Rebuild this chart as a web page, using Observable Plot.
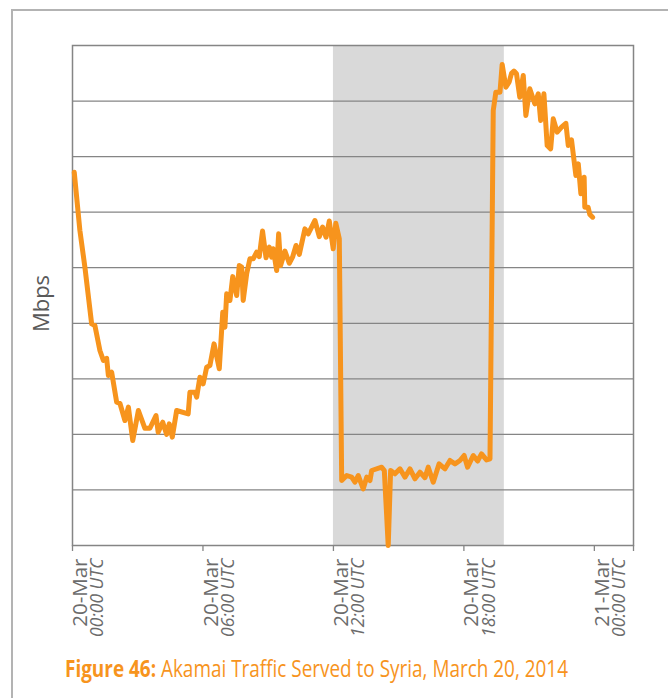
<!DOCTYPE html>
<html>
<head>
<meta charset="utf-8">
<script src="https://cdn.jsdelivr.net/npm/d3@7"></script>
<script src="https://cdn.jsdelivr.net/npm/@observablehq/plot@0.6"></script>
<style>
  html, body { margin: 0; padding: 0; background: #fff; }
  body { width: 668px; height: 698px; position: relative; overflow: hidden; font-family: "Open Sans", sans-serif; }
  #border { position: absolute; left: 11px; top: 9px; width: 700px; height: 720px;
            border-left: 2px solid #b3b3b3; border-top: 2px solid #b3b3b3; }
  #chart { position: absolute; left: 0; top: 0; }
  #caption { position: absolute; left: 65px; top: 657px; font-size: 23px; line-height: 23px;
             color: #f7941d; white-space: nowrap; transform-origin: 0 0; }
  #caption b { font-weight: 700; }
</style>
</head>
<body>
<div id="border"></div>
<div id="chart"></div>
<div id="caption"><span id="capText"><b>Figure 46:</b> Akamai Traffic Served to Syria, March 20, 2014</span></div>
<script>
// Hours since 20-Mar 00:00 UTC
const hours = [0.08,0.34,0.57,0.88,1.03,1.26,1.42,1.57,1.65,1.80,
  2.03,2.18,2.41,2.57,2.77,3.03,3.33,3.56,3.84,3.94,
  4.15,4.33,4.45,4.59,4.79,5.32,5.40,5.63,5.71,5.86,
  6.01,6.17,6.32,6.51,6.75,6.91,7.01,7.09,7.24,7.37,
  7.55,7.67,7.78,7.85,8.01,8.16,8.31,8.47,8.59,8.74,
  8.90,9.05,9.16,9.23,9.39,9.48,9.57,9.77,9.97,10.12,
  10.28,10.43,10.69,10.84,11.15,11.35,11.50,11.66,11.81,11.99,
  12.11,12.27,12.38,12.61,12.84,12.99,13.14,13.37,13.53,13.68,
  13.76,14.22,14.34,14.52,14.63,14.83,15.06,15.29,15.52,15.75,
  15.98,16.21,16.36,16.59,16.86,17.13,17.36,17.59,17.82,18.01,
  18.17,18.43,18.63,18.81,19.04,19.20,19.35,19.47,19.66,19.76,
  19.93,20.08,20.19,20.30,20.42,20.57,20.73,20.85,21.03,21.26,
  21.42,21.53,21.68,21.83,21.99,22.11,22.29,22.49,22.69,22.80,
  22.95,23.15,23.26,23.38,23.53,23.56,23.71,23.79,23.92];
// Traffic (unlabelled Mbps units, one per gridline)
const mbps = [6.72,5.67,5.01,3.99,3.96,3.51,3.33,3.37,3.06,3.12,
  2.58,2.56,2.25,2.49,1.89,2.43,2.11,2.11,2.34,2.04,
  2.22,2.00,2.19,1.95,2.43,2.37,2.76,2.76,2.67,3.03,
  2.91,3.21,3.24,3.63,3.18,4.20,3.93,4.53,4.41,4.84,
  4.50,5.04,5.01,4.41,4.89,5.16,5.16,5.28,5.20,5.66,
  5.18,5.37,5.19,5.34,4.95,5.61,5.04,5.30,5.08,5.19,
  5.40,5.24,5.70,5.61,5.85,5.56,5.73,5.55,5.84,5.34,
  5.80,5.52,1.17,1.26,1.23,1.14,1.26,1.02,1.23,1.17,
  1.35,1.41,1.35,0,1.35,1.29,1.38,1.23,1.38,1.20,
  1.32,1.22,1.41,1.14,1.47,1.38,1.53,1.47,1.53,1.62,
  1.41,1.62,1.52,1.65,1.54,1.56,7.83,8.16,8.16,8.66,
  8.25,8.34,8.50,8.54,8.49,8.07,8.46,7.74,8.22,7.95,
  8.13,7.65,8.13,7.20,7.14,7.68,7.44,7.53,7.60,7.20,
  7.30,6.66,6.87,6.33,6.63,6.09,6.09,5.96,5.91];

const tickHours = [0, 6, 12, 18, 24];
const tickDates = ["20-Mar", "20-Mar", "20-Mar", "20-Mar", "21-Mar"];
const tickTimes = ["00:00 UTC", "06:00 UTC", "12:00 UTC", "18:00 UTC", "00:00 UTC"];
const axisEndHour = 25.8;
const outage = [{start: 12, end: 19.86}];
const gridValues = [1, 2, 3, 4, 5, 6, 7, 8];
const yMax = 9;
const yLabel = "Mbps";

const series = hours.map((h, i) => ({h, v: mbps[i]}));
const ticks = tickHours.map((h, i) => ({h, date: tickDates[i], time: tickTimes[i]}));

const gridColor = "#858585";
const labelColor = "#6b6b6b";

const chart = Plot.plot({
  width: 668,
  height: 640,
  marginLeft: 72,
  marginTop: 45,
  marginRight: 35,
  marginBottom: 95,
  style: {background: "transparent", fontFamily: "'Open Sans', sans-serif", overflow: "visible"},
  x: {domain: [0, axisEndHour], axis: null},
  y: {domain: [0, yMax], axis: null},
  marks: [
    Plot.rect(outage, {x1: "start", x2: "end", y1: () => 0, y2: () => yMax, fill: "#d9d9d9"}),
    Plot.ruleY(gridValues, {stroke: gridColor, strokeWidth: 1.3}),
    Plot.frame({stroke: gridColor, strokeWidth: 1.5}),
    Plot.axisX([...tickHours, axisEndHour], {tickSize: 6, stroke: gridColor, strokeWidth: 1.3, tickFormat: () => ""}),
    Plot.line(series, {x: "h", y: "v", stroke: "#f7941d", strokeWidth: 5, strokeLinejoin: "round", strokeLinecap: "round"}),
    Plot.text(ticks, {x: "h", text: "date", frameAnchor: "bottom", dy: 13, rotate: -90,
      textAnchor: "end", lineAnchor: "top", fontSize: 20.5, fill: labelColor}),
    Plot.text(ticks, {x: "h", text: "time", frameAnchor: "bottom", dy: 13, dx: 18.5, rotate: -90,
      textAnchor: "end", lineAnchor: "top", fontSize: 17.5, fontStyle: "italic", fill: labelColor}),
    Plot.text([yLabel], {text: d => d, frameAnchor: "left", dx: -31, dy: 8, rotate: -90,
      textAnchor: "middle", lineAnchor: "middle", fontSize: 22, fill: "#595959"})
  ]
});
document.getElementById("chart").appendChild(chart);

// fit caption to the reference width
const cap = document.getElementById("caption");
const w = document.getElementById("capText").getBoundingClientRect().width;
cap.style.transform = `scaleX(${503 / w})`;
</script>
</body>
</html>
